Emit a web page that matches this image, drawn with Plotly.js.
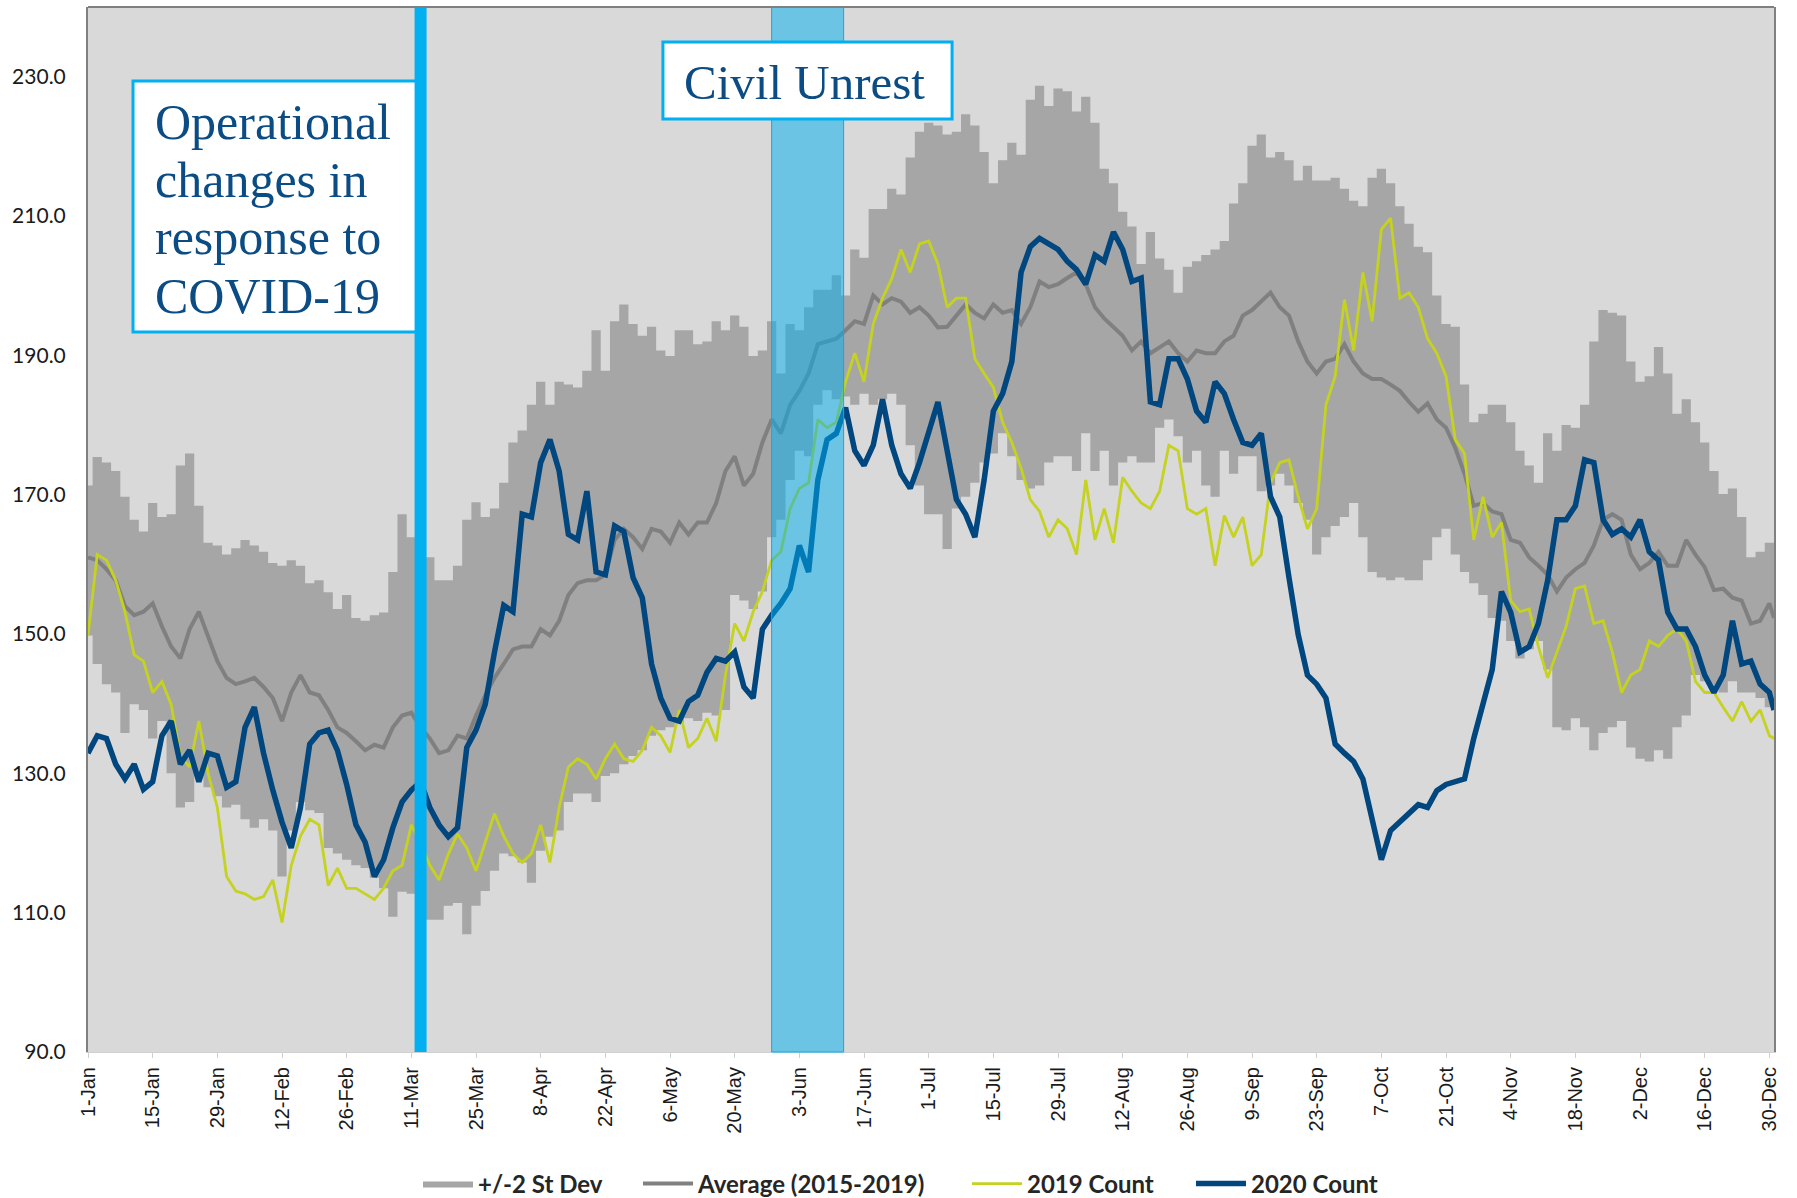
<!DOCTYPE html>
<html>
<head>
<meta charset="utf-8">
<script src="https://cdn.plot.ly/plotly-3.0.1.min.js"></script>
<style>html,body{margin:0;padding:0;background:#fff;}#chart{width:1797px;height:1198px;}</style>
</head>
<body>
<div id="chart"></div>
<script>
// Day offsets (from 1-Jan-2020) of the sampled points: every 2 days, plus 31-Dec
const sampleStep = 2;
const lastDay = 365;

const upperBand = [
171.3,175.4,174.6,173.4,169.7,166.4,164.7,168.8,166.8,167.2,174.2,175.9,168.4,163.1,162.7,161.4,
162.3,163.5,162.7,161.8,160.2,159.8,160.6,159.8,157.3,157.7,156,153.6,155.6,152.3,151.9,152.7,
153.1,158.9,167.2,163.9,161.4,161,157.7,157.7,159.8,166.4,168.9,166.8,168,171.7,177.5,179.2,
182.9,186.2,182.9,186.2,185.8,185.4,187.8,193.6,187.8,194.9,197.3,194.5,192.8,194.1,190.7,189.9,
193.6,193.6,191.6,192,194.9,193.6,195.7,194.1,189.9,190.7,194.9,187.4,194.5,193.6,196.9,199.4,
199.4,201.5,198.6,205.2,204,211,211,213.9,213.1,218.4,222.1,223.4,223,221.7,222.1,224.6,
223,219.2,214.7,218,220.5,218.8,226.7,228.7,225.8,228.3,227.9,225,227.1,223.4,216.8,214.7,
210.6,208.5,203.1,207.7,203.9,202.3,199,202.7,203.5,204.4,205.2,206.4,211.8,214.7,220.1,221.7,
218.4,219.2,218,215.1,217.2,215.1,215.1,215.5,213.9,212.2,211.4,215.5,216.8,214.7,211.4,208.9,
205.6,204.8,198.6,194.5,194.1,185.8,180.4,181.6,182.9,182.9,180.4,176.3,174.2,171.7,178.8,176.3,
180,179.6,182.9,192,196.5,196.1,195.7,189.1,186.2,187,191.2,187.4,181.6,183.7,180.4,177.5,
173.4,170.1,170.9,166.8,161,161.8,163.1,
163.1];

const lowerBand = [
149.8,145.7,142.8,141.6,135.8,139.9,139.1,135,137.5,130,125.1,125.9,129.6,128,126.7,125.1,
125.5,123.4,122.2,123.4,121.8,115.2,121.8,125.9,124.7,124.3,119.3,118.5,117.6,116.8,116.4,115,
113.5,109.4,113,112.7,111,109,109,111,111.4,106.9,111,113.1,116,118.5,118.1,117.2,
114.3,118.9,120.9,121.8,125.9,127.1,127.1,125.9,129.6,130,131.3,132.5,133.3,135.4,136.2,136.6,
137.1,137.9,137.5,138.7,138.3,139.1,155.6,154.8,153.6,156.1,163.9,166.4,172.1,176.3,175.5,182.9,
185,183.7,184.1,182.9,184.5,182.9,183.7,184.5,182.9,177.1,171.3,167.2,167.2,162.2,168,169.7,
171.7,174.6,175.9,178.8,175.5,172.1,170.9,171.3,174.6,175.5,175.5,173.4,178.8,173.4,176.3,171.3,
174.6,175.5,174.6,174.6,179.6,180.8,178.4,174.6,176.3,171.3,169.7,176.3,173,175.5,175.5,170.5,
171.3,173,171.3,168.8,166.4,161.4,163.9,165.5,166.8,168.8,163.9,158.9,158.1,157.7,158.1,157.7,
157.7,160.6,163.9,165.1,161.4,158.9,157.3,155.6,152.3,151.9,149,146.5,147.8,149,144.9,136.6,
136.2,137.9,136.6,133.3,135.8,136.6,137.5,133.7,132.1,131.7,133.3,132.1,136.6,138.3,144.1,143.2,
142,141.6,143.2,141.6,141.6,140.8,139.5,
139.5];

const average2015to2019 = [
161,160.6,159.3,157.7,154,152.7,153.2,154.4,151.1,148.2,146.5,150.7,153.2,149.8,146.1,143.7,
142.8,143.2,143.7,142.4,140.8,137.5,141.6,144.1,141.6,141.2,139.1,136.6,135.8,134.6,133.3,134.1,
133.7,136.6,138.3,138.7,136.6,135,132.9,133.3,135.4,135,138.3,141.2,143.7,145.7,147.8,148.2,
148.2,150.7,149.8,151.9,155.6,157.3,157.7,157.7,158.5,163.5,165.1,163.9,162.2,165.1,164.7,163.1,
166,164.3,166,166,168.8,173.4,175.5,171.3,173,177.5,180.8,178.8,182.9,184.9,187.4,191.6,
192,192.4,193.6,194.9,194.5,198.6,197.3,198.2,197.7,196.1,196.9,195.7,194,194.1,195.7,197.3,
196.1,195.3,197.3,196.1,196.5,194.5,196.9,200.6,199.8,200.2,201.1,201.9,200.2,196.9,195.3,194.1,
192.8,190.7,192,190.3,191.2,192,190.3,189.1,190.7,190.3,190.3,192,192.8,195.7,196.5,197.8,
199,196.9,195.7,192,189.1,187.4,189.1,189.5,191.6,189.1,187.4,186.6,186.6,185.8,184.9,183.3,
181.9,183.1,180.8,179.6,176.7,173,168.4,168.8,167.6,167.2,163.5,163.1,161,159.8,158.5,156.1,
158.1,159.3,160.2,162.7,166.4,167.2,166.4,161.4,159.3,160.2,161.8,159.8,159.8,163.5,161.4,159.6,
156.3,156.5,155.2,154.8,151.5,151.9,154.4,
152.3];

const count2019 = [
149.8,161.4,160.6,157.7,153.2,147,146.1,141.6,143.2,139.9,132.5,130.9,137.5,130,125.1,115.2,
113.1,112.7,111.9,112.3,114.7,108.6,116.8,121,123.4,122.6,113.9,116.4,113.5,113.5,112.7,111.9,
113.5,116,116.8,122.6,120.1,116.8,114.7,118.4,121.3,119.3,116,120.1,124.2,121,118.5,117.2,
118.5,122.6,117.2,125.1,130.9,132.1,131.3,129.2,132.1,134.2,132.1,131.7,133.3,136.6,135.4,133,
139.1,133.7,135,137.9,134.6,144.1,151.5,149,153.2,156.1,160.6,161.8,168,170.9,171.7,180.8,
179.6,180.4,186.2,190.3,186.2,194.5,198.2,201,205.2,201.9,206,206.4,203.1,196.9,198.2,198.2,
189.5,187.4,185.4,180.4,177.5,173.8,169.3,167.6,163.9,166.4,165.1,161.4,172.1,163.5,168,163.1,
172.5,170.5,168.8,168,170.5,177.1,176.3,168,167.2,168,159.8,167,163.9,166.8,159.8,161.4,
171.7,174.6,175,169.7,165.1,168,182.9,187,198,190.7,201.9,194.9,208.1,209.7,198.2,199,
196.9,192.4,190.3,187,177.9,175.9,163.5,169.7,163.9,166,154.8,153.2,153.6,148.2,143.7,147.4,
151.1,156.5,156.9,151.5,151.9,147.4,141.6,144.1,144.9,149,148.2,149.8,150.7,149,143.2,141.6,
141.6,139.5,137.5,140.3,137.5,139.1,135.4,
135];

const count2020 = [
132.9,135.4,135,131.3,129.2,131.3,127.7,128.8,135.4,137.5,131.3,133.3,128.8,132.9,132.5,128,
128.8,136.6,139.5,132.9,127.6,123,119.3,125.1,134.2,135.8,136.2,133.3,128.4,122.6,120.1,115.2,
117.6,122.2,125.9,127.6,128.8,125.1,122.6,120.9,122.2,133.7,136.2,139.9,147.4,154.1,153.2,167.2,
166.8,174.6,177.9,173.4,164.3,163.5,170.5,158.9,158.5,165.5,164.7,158.1,155.2,145.7,140.8,137.9,
137.5,140.3,141.2,144.5,146.5,146.1,147.4,142.4,140.8,150.7,152.7,154.4,156.5,162.7,158.9,172.1,
177.9,178.8,182.5,176.3,174.2,177.1,183.7,177.1,173,170.9,174.6,179.2,183.3,176.3,169.3,167.2,
163.9,172.1,182,184.5,189.1,201.9,205.6,206.8,206,205.2,203.5,202.3,200.2,204.4,203.5,207.7,
205.2,200.6,201.1,183.3,182.9,189.5,189.5,186.6,182,180.4,186.2,184.5,180.8,177.5,177.1,178.8,
169.7,166.8,158.1,149.9,144.1,142.8,140.8,134.2,132.9,131.7,129.2,123.4,117.6,121.8,123,124.2,
125.5,125.1,127.5,128.4,128.8,129.2,135,140.3,144.9,156.1,153.1,147.4,148.2,151.5,157.7,166.4,
166.4,168.4,175,174.6,166.4,164.3,165.1,163.9,166.4,161.8,160.6,153.1,150.7,150.7,148.2,144.1,
141.6,144.1,151.9,145.7,146.1,142.8,141.6,
139.1];

const xTickDates = ['2020-01-01','2020-01-15','2020-01-29','2020-02-12','2020-02-26','2020-03-11','2020-03-25',
  '2020-04-08','2020-04-22','2020-05-06','2020-05-20','2020-06-03','2020-06-17','2020-07-01','2020-07-15',
  '2020-07-29','2020-08-12','2020-08-26','2020-09-09','2020-09-23','2020-10-07','2020-10-21','2020-11-04',
  '2020-11-18','2020-12-02','2020-12-16','2020-12-30'];
const xTickLabels = ['1-Jan','15-Jan','29-Jan','12-Feb','26-Feb','11-Mar','25-Mar','8-Apr','22-Apr','6-May',
  '20-May','3-Jun','17-Jun','1-Jul','15-Jul','29-Jul','12-Aug','26-Aug','9-Sep','23-Sep','7-Oct','21-Oct',
  '4-Nov','18-Nov','2-Dec','16-Dec','30-Dec'];
const yTickValues = [90,110,130,150,170,190,210,230];
const yTickLabels = ['90.0','110.0','130.0','150.0','170.0','190.0','210.0','230.0'];

const seriesNames = ['+/-2 St Dev','Average (2015-2019)','2019 Count','2020 Count'];
const covidDate = '2020-03-13';
const unrestStart = '2020-05-28';
const unrestEnd = '2020-06-12 14:00';
const covidText = ['Operational','changes in','response to','COVID-19'];
const unrestText = 'Civil Unrest';

// build the date categories
const base = Date.UTC(2020,0,1);
const dates = [];
for (let d = 0; d <= 364; d += sampleStep) dates.push(new Date(base + d*86400000).toISOString().slice(0,10));
dates.push(new Date(base + lastDay*86400000).toISOString().slice(0,10));

const traces = [
  {x: dates, y: lowerBand, type:'scatter', mode:'lines', line:{width:0, shape:'hvh', color:'#A6A6A6'},
   showlegend:false, hoverinfo:'skip'},
  {x: dates, y: upperBand, type:'scatter', mode:'lines', fill:'tonexty', fillcolor:'#A6A6A6',
   line:{width:0, shape:'hvh', color:'#A6A6A6'}, name: seriesNames[0], legend:'legend'},
  {x: dates, y: average2015to2019, type:'scatter', mode:'lines', line:{color:'#808080', width:4}, name: seriesNames[1], legend:'legend2'},
  {x: dates, y: count2019, type:'scatter', mode:'lines', line:{color:'#C5D21F', width:2.8}, name: seriesNames[2], legend:'legend3'},
  {x: dates, y: count2020, type:'scatter', mode:'lines', line:{color:'#00467F', width:5.5}, name: seriesNames[3], legend:'legend4'}
];

const textColor = '#0B4C84';
const annotations = [];
const covidLineY = [0.8900, 0.8344, 0.7799, 0.7234];
covidText.forEach((t, i) => annotations.push({
  xref:'paper', yref:'paper', x:0.0385, y:covidLineY[i], xanchor:'left', yanchor:'middle',
  text:t, showarrow:false, font:{family:'Liberation Serif', size:50, color:textColor}
}));
annotations.push({xref:'paper', yref:'paper', x:0.3525, y:0.9273, xanchor:'left', yanchor:'middle',
  text:unrestText, showarrow:false, font:{family:'Liberation Serif', size:49, color:textColor}});

const shapes = [
  {type:'rect', xref:'x', yref:'paper', x0:unrestStart, x1:unrestEnd, y0:0, y1:1,
   fillcolor:'rgba(0,176,240,0.5)', line:{color:'#00B0F0', width:1}, layer:'above'},
  {type:'rect', xref:'paper', yref:'paper', x0:0.341, x1:0.5125, y0:0.8928, y1:0.9665,
   fillcolor:'#FFFFFF', line:{color:'#00B0F0', width:3}, layer:'above'},
  {type:'rect', xref:'paper', yref:'paper', x0:0.0267, x1:0.1957, y0:0.689, y1:0.9292,
   fillcolor:'#FFFFFF', line:{color:'#00B0F0', width:3}, layer:'above'},
  {type:'line', xref:'x', yref:'paper', x0:covidDate, x1:covidDate, y0:0, y1:1,
   line:{color:'#00B0F0', width:12}, layer:'above'},
  {type:'line', xref:'paper', yref:'paper', x0:0, x1:1, y0:1, y1:1, line:{color:'#808080', width:2}, layer:'above'}
];

const legendFont = {family:'Lato', size:24, color:'#262626', weight:'bold'};
function legendAt(px) {
  return {orientation:'h', xref:'container', yref:'container', x:px/1797, xanchor:'left',
    y:1 - 1184/1198, yanchor:'middle', font:legendFont, bgcolor:'rgba(0,0,0,0)', itemwidth:50};
}

const layout = {
  width:1797, height:1198,
  margin:{l:88, r:23, t:7, b:146},
  paper_bgcolor:'#FFFFFF', plot_bgcolor:'#D9D9D9',
  showlegend:true,
  xaxis:{type:'date', range:['2020-01-01','2020-12-31'], tickmode:'array', tickvals:xTickDates, ticktext:xTickLabels,
    tickangle:-90, tickfont:{family:'Liberation Sans, Arial, sans-serif', size:20, color:'#1A1A1A'},
    ticks:'outside', ticklen:5, tickcolor:'#D0D0D0', showline:true, linecolor:'#D0D0D0', linewidth:1,
    ticklabelstandoff:1, showgrid:false, zeroline:false, fixedrange:true},
  yaxis:{range:[90,240], tickmode:'array', tickvals:yTickValues, ticktext:yTickLabels,
    tickfont:{family:'Lato', size:21, color:'#1A1A1A'}, showgrid:false, zeroline:false,
    showline:true, linecolor:'#808080', linewidth:2, mirror:true, ticks:'', ticklabelstandoff:16, fixedrange:true},
  legend: legendAt(418),
  legend2: legendAt(638),
  legend3: legendAt(967),
  legend4: legendAt(1191),
  shapes: shapes,
  annotations: annotations
};

Plotly.newPlot('chart', traces, layout, {staticPlot:true, displayModeBar:false});
</script>
</body>
</html>
